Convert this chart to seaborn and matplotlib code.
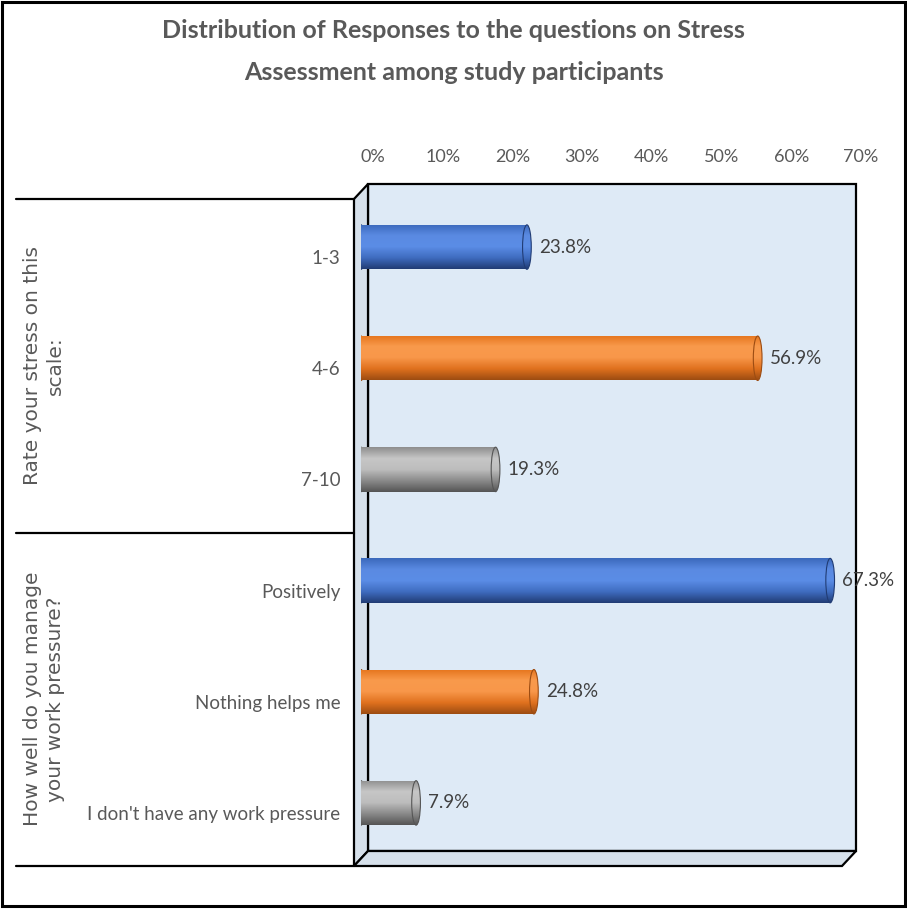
import numpy as np
import pandas as pd
import matplotlib
matplotlib.use("Agg")
import matplotlib.pyplot as plt
import matplotlib.transforms as mtransforms
from matplotlib.patches import Polygon, Rectangle, Ellipse
from matplotlib.colors import LinearSegmentedColormap
from matplotlib.lines import Line2D
import seaborn as sns

# ---- data ----
categories = ["1-3", "4-6", "7-10", "Positively", "Nothing helps me",
              "I don't have any work pressure"]
percentages = [23.8, 56.9, 19.3, 67.3, 24.8, 7.9]
bar_style = ["blue", "orange", "gray", "blue", "orange", "gray"]
groups = ["Rate your stress on this\nscale:", "How well do you manage\nyour work pressure?"]
group_sizes = [3, 3]
x_ticks = [0, 10, 20, 30, 40, 50, 60, 70]
x_tick_labels = [f"{t}%" for t in x_ticks]
title_lines = ["Distribution of Responses to the questions on Stress",
               "Assessment among study participants"]

W, H, DPI = 907, 910, 100
sns.set_theme(style="white")
plt.rcParams["font.family"] = ["Lato", "DejaVu Sans"]
TEXT = "#595959"

fig = plt.figure(figsize=(W / DPI, H / DPI), dpi=DPI)
fig.patch.set_facecolor("white")

# axes = middle depth plane of the 3D box (pixel bounds)
L, R, T, B = 361, 849, 191.5, 858.5
ax = fig.add_axes([L / W, 1 - B / H, (R - L) / W, (B - T) / H])
ax.patch.set_alpha(0)

df = pd.DataFrame({"category": categories, "pct": percentages, "style": bar_style})
palette = {"blue": "#4a7bd0", "orange": "#f0852d", "gray": "#a5a5a5"}
sns.barplot(data=df, y="category", x="pct", hue="style", palette=palette,
            orient="h", width=0.4, dodge=False, legend=False, ax=ax,
            saturation=1, zorder=3)

XMAX = 70
ax.set_xlim(0, XMAX)
ax.set_ylim(len(categories) - 0.5, -0.5)
for s in ax.spines.values():
    s.set_visible(False)

# depth offsets for front / back planes
DX, DY = 7 / DPI, 7.5 / DPI
back = ax.transData + mtransforms.ScaledTranslation(DX, DY, fig.dpi_scale_trans)
front = ax.transData + mtransforms.ScaledTranslation(-DX, -DY, fig.dpi_scale_trans)

y_top, y_bot = -0.5, len(categories) - 0.5
wall_kw = dict(edgecolor="black", linewidth=1.6, clip_on=False, zorder=0)

# back wall
ax.add_patch(Rectangle((0, y_top), XMAX, y_bot - y_top, transform=back,
                       facecolor="#deeaf6", **wall_kw))


def disp(tr, x, y):
    return tr.transform((x, y))


fig.canvas.draw()
# side wall and floor in display coordinates
side = [disp(front, 0, y_top), disp(back, 0, y_top), disp(back, 0, y_bot), disp(front, 0, y_bot)]
floor = [disp(front, 0, y_bot), disp(back, 0, y_bot), disp(back, XMAX, y_bot), disp(front, XMAX, y_bot)]
for pts in (side, floor):
    ax.add_patch(Polygon(pts, closed=True, transform=mtransforms.IdentityTransform(),
                         facecolor="#d6e0ea", **wall_kw))

# group separator lines on the left panel
x_left_disp = 16
bounds = [y_top]
acc = -0.5
for n in group_sizes:
    acc += n
    bounds.append(acc)
for yb in bounds:
    xe, ye = disp(front, 0, yb)
    fig.add_artist(Line2D([x_left_disp, xe], [ye, ye], transform=mtransforms.IdentityTransform(),
                          color="black", linewidth=1.6))

# cylinder shading
grad_stops = {
    "blue": ["#3b69bb", "#5a8ae2", "#5b8de6", "#3f6cc0", "#213c74"],
    "orange": ["#e5741c", "#f99a4c", "#f8974a", "#e0711e", "#9c4c12"],
    "gray": ["#8e8e8e", "#c6c6c6", "#bdbdbd", "#8a8a8a", "#555555"],
}
cmaps = {k: LinearSegmentedColormap.from_list(k, v) for k, v in grad_stops.items()}
grad = np.linspace(0, 1, 128).reshape(-1, 1)

cap_w = 1.25  # cap width in data units
for p in list(ax.patches):
    if not isinstance(p, Rectangle) or p.get_height() <= 0 or p.get_width() <= 0:
        continue
    yc = p.get_y() + p.get_height() / 2
    idx = int(round(yc))
    if idx < 0 or idx >= len(categories) or abs(p.get_height() - 0.4) > 1e-6:
        continue
    style = bar_style[idx]
    cmap = cmaps[style]
    x0, x1 = p.get_x(), p.get_x() + p.get_width()
    y0, y1 = p.get_y(), p.get_y() + p.get_height()
    p.set_facecolor("none")
    p.set_edgecolor("none")
    # body
    body = Rectangle((x0, y0), x1 - x0, y1 - y0, facecolor="none", edgecolor="none")
    ax.add_patch(body)
    im = ax.imshow(grad, cmap=cmap, extent=(x0, x1, y1, y0), aspect="auto",
                   zorder=3.1, interpolation="bilinear")
    im.set_clip_path(body)
    # rounded ends
    for xc, z in ((x0, 3.0), (x1, 3.2)):
        el = Ellipse((xc, yc), cap_w, y1 - y0, facecolor="none",
                     edgecolor=grad_stops[style][-1], linewidth=0.8, zorder=z + 0.05)
        ax.add_patch(el)
        im2 = ax.imshow(grad, cmap=cmap, extent=(xc - cap_w / 2, xc + cap_w / 2, y1, y0),
                        aspect="auto", zorder=z, interpolation="bilinear")
        im2.set_clip_path(el)

ax.set_xlim(0, XMAX)
ax.set_ylim(len(categories) - 0.5, -0.5)

# value labels
for i, v in enumerate(percentages):
    ax.text(v + 1.7, i, f"{v}%", ha="left", va="center", fontsize=13.5,
            color="#404040", zorder=5)

# top percentage scale
ax.xaxis.tick_top()
ax.set_xticks(x_ticks)
ax.set_xticklabels(x_tick_labels, fontsize=13, color=TEXT)
ax.tick_params(axis="x", length=0, pad=19)
shift = mtransforms.ScaledTranslation(12 / DPI, 0, fig.dpi_scale_trans)
for lab in ax.get_xticklabels():
    lab.set_transform(lab.get_transform() + shift)

# category labels
ax.set_yticks(range(len(categories)))
ax.set_yticklabels(categories, fontsize=13.5, color=TEXT)
ax.tick_params(axis="y", length=0, pad=15)
yshift = mtransforms.ScaledTranslation(0, -10 / DPI, fig.dpi_scale_trans)
for lab in ax.get_yticklabels():
    lab.set_transform(lab.get_transform() + yshift)
ax.set_xlabel("")
ax.set_ylabel("")

# group labels
start = 0
for g, n in zip(groups, group_sizes):
    ymid = start + (n - 1) / 2
    _, yd = disp(front, 0, ymid)
    fig.text(44 / W, yd / H, g, rotation=90, ha="center", va="center",
             fontsize=14.5, color=TEXT, family="DejaVu Sans", linespacing=1.3,
             multialignment="center")
    start += n

# title
fig.text(0.5, 1 - 31 / H, title_lines[0], ha="center", va="center",
         fontsize=18, fontweight="bold", color=TEXT)
fig.text(0.5, 1 - 72 / H, title_lines[1], ha="center", va="center",
         fontsize=18, fontweight="bold", color=TEXT)

# outer frame
fig.add_artist(Rectangle((2 / W, 1 - 906 / H), 903 / W, 904 / H, transform=fig.transFigure,
                         facecolor="none", edgecolor="black", linewidth=2.2))

fig.savefig("out.png", dpi=DPI)
